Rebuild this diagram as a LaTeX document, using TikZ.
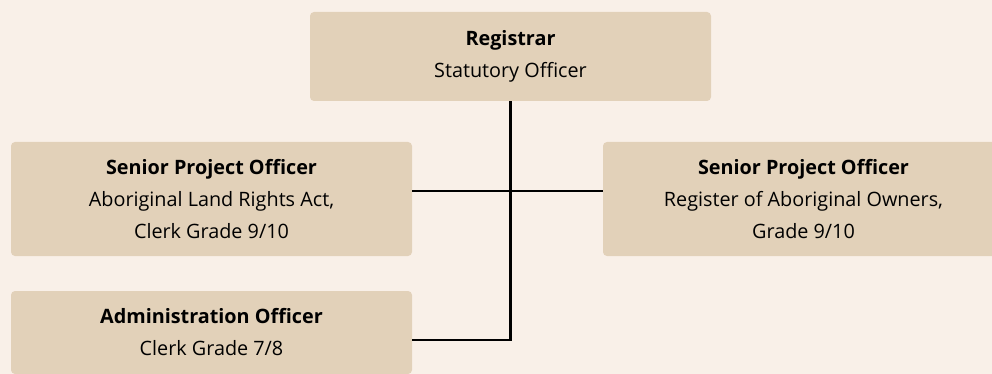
\documentclass[tikz,border=0pt]{standalone}
\usepackage{fontspec}
\setmainfont{Open Sans}
\usetikzlibrary{calc, positioning}

\definecolor{pagebg}{RGB}{249,240,232}
\definecolor{boxfill}{RGB}{226,209,185}

\begin{document}
\begin{tikzpicture}[x=1pt,y=-1pt,
  post/.style={fill=boxfill, rounded corners=4pt, minimum width=401pt,
    align=center, inner sep=0pt, font=\fontsize{19.8}{32}\selectfont},
  link/.style={line width=2.6pt, black}]
\useasboundingbox (0,0) rectangle (992,374);
\fill[pagebg] (0,0) rectangle (992,374);
\clip (0,0) rectangle (992,374);

\node[post, minimum height=89pt] (reg) at (510.5,56.5)
  {\textbf{Registrar}\\Statutory Officer};
\node[post, minimum height=114pt] (spoA) at (211.5,199)
  {\textbf{Senior Project Officer}\\Aboriginal Land Rights Act,\\Clerk Grade 9/10};
\node[post, minimum height=114pt] (spoR) at (803.5,199)
  {\textbf{Senior Project Officer}\\Register of Aboriginal Owners,\\Grade 9/10};
\node[post, minimum height=83pt] (adm) at (211.5,332.5)
  {\textbf{Administration Officer}\\Clerk Grade 7/8};

% connectors
\draw[link] ([yshift=8pt]spoA.east) -- ([yshift=8pt]spoR.west);
\draw[link] (reg.south) |- ([yshift=-7.5pt]adm.east);
\end{tikzpicture}
\end{document}
